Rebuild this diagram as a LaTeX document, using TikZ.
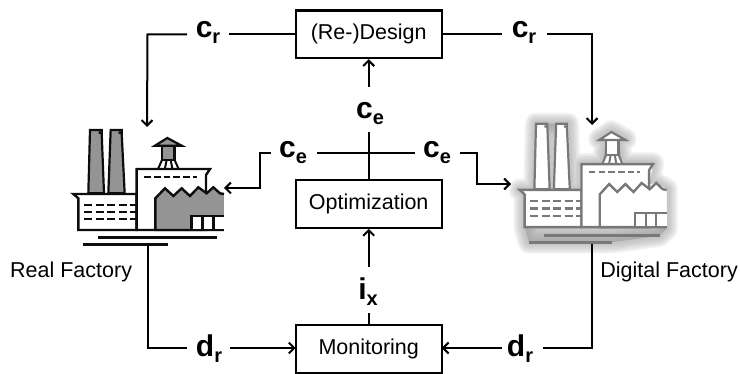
\documentclass[tikz,border=0pt]{standalone}
\usepackage{fontspec}
\setmainfont{Liberation Sans}
\usetikzlibrary{arrows.meta}
\definecolor{dk}{gray}{0.05}
\definecolor{fl}{gray}{0.58}
\definecolor{dg}{gray}{0.47}
\tikzset{
  x=1pt,y=-1pt,
  link/.style={draw=black,line width=2pt},
  arr/.style={link,-{Straight Barb[length=5.5pt,width=11pt,line width=2pt]}},
  procbox/.style={draw=black,line width=2.2pt,minimum width=146pt,minimum height=47.5pt,inner sep=0pt,font=\fontsize{21.5}{24}\selectfont},
  lab/.style={inner sep=0pt,font=\fontsize{30}{32}\selectfont\bfseries},
  captext/.style={inner sep=0pt,font=\fontsize{21.5}{24}\selectfont},
}
\newcommand{\lbl}[2]{#1\raisebox{-6pt}{\fontsize{20}{22}\selectfont #2}}
\newcommand{\factoryoutline}{
  (120,60)--(155,60)--(162,250)--(175,250)--(182,60)--(218,60)--(225,250)--(258,250)--(258,178)--(325,175)--(335,150)--(335,108)--(315,105)--(352,82)--(395,105)--(375,108)--(375,150)--(385,175)--(480,175)--(470,235)--(490,232)--(522,250)--(522,360)--(85,360)--(85,262)--(70,252)--(115,250)--cycle
}
\newcommand{\factory}[5]{%
\begin{scope}[shift={#5},line join=miter,x=#1pt,y=-#2pt]
\def\lc{#3}\def\fc{#4}
 \fill[white] \factoryoutline;
 \filldraw[draw=\lc,fill=\fc,line width=2.2pt] (120,60)--(155,60)--(155,68)--(146,68)--(155,68)--(162,250)--(115,250)--cycle;
 \filldraw[draw=\lc,fill=\fc,line width=2.2pt] (182,60)--(215,60)--(215,68)--(206,68)--(215,68)--(224,250)--(175,250)--cycle;
 \filldraw[draw=\lc,fill=white,line width=2.4pt] (70,252)--(260,252)--(260,360)--(85,360)--(85,265)--cycle;
 \draw[draw=\lc,dash pattern=on 8pt off 3.4pt,line width=2.2pt] (103,284)--(258,284) (103,306)--(258,306) (103,328)--(258,328);
 \filldraw[draw=\lc,fill=white,line width=2.4pt] (260,360)--(260,177)--(480,177)--(468,195)--(468,240)--(468,360)--cycle;
 \draw[draw=\lc,dash pattern=on 6.5pt off 3.2pt,line width=2.2pt] (283,200)--(440,200);
 \filldraw[draw=\lc,fill=\fc,line width=2.4pt] (522,252)--(510,250)--(490,232)--(470,250)--(445,232)--(420,258)--(395,235)--(370,258)--(345,235)--(316,265)--(316,360)--(522,360);
 \filldraw[draw=\lc,fill=white,line width=2.4pt] (522,318)--(425,318)--(425,360)--(522,360);
 \draw[draw=\lc,line width=2.4pt] (458,318)--(458,360) (490,318)--(490,360);
 \filldraw[draw=\lc,fill=\fc,line width=2.4pt] (336,108)--(374,108)--(374,150)--(336,150)--cycle;
 \filldraw[draw=\lc,fill=\fc,line width=2.2pt] (315,107)--(352,84)--(395,107)--cycle;
 \draw[draw=\lc,line width=2pt] (336,150)--(325,175) (374,150)--(385,175) (350,150)--(345,175) (362,150)--(367,175);
 \draw[draw=\lc,line width=2.8pt] (145,383)--(500,383) (98,404)--(353,404);
\end{scope}}
\begin{document}
\begin{tikzpicture}
\useasboundingbox (0,0) rectangle (740,374);
\node[procbox] (design) at (368.7,34.3) {(Re-)Design};
\node[procbox] (opt) at (368.7,204) {Optimization};
\node[procbox] (mon) at (368.7,349) {Monitoring};
\factory{0.3333}{0.3333}{dk}{fl}{(50pt,-110pt)}
\begin{scope}[shift={(497pt,-103pt)},x=0.325pt,y=-0.345pt,line join=round]
 \foreach \w in {22,18,14,10,6}{
  \filldraw[draw=black!40,fill=black!40,opacity=0.15,line width=\w pt] (120,60)--(218,60)--(225,250)--(258,250)--(258,178)--(325,175)--(335,108)--(315,105)--(352,82)--(395,105)--(375,108)--(385,175)--(480,175)--(470,235)--(490,232)--(522,250)--(522,365)--(500,385)--(353,404)--(98,404)--(85,360)--(85,262)--(70,252)--(115,250)--cycle;
 }
\end{scope}
\factory{0.325}{0.345}{dg}{white}{(497pt,-103pt)}
\node[captext,anchor=west] (realcap) at (10,272) {Real Factory};
\node[captext,anchor=east] (digcap) at (738,272) {Digital Factory};
\node[lab] (crl) at (208,32) {\lbl{c}{r}};
\node[lab] (crr) at (524,32) {\lbl{c}{r}};
\node[lab] (cem) at (370,114) {\lbl{c}{e}};
\node[lab] (cel) at (293,153) {\lbl{c}{e}};
\node[lab] (cer) at (437,153) {\lbl{c}{e}};
\node[lab] (ix) at (368,292) {\lbl{i}{x}};
\node[lab] (drl) at (209,349) {\lbl{d}{r}};
\node[lab] (drr) at (520,349) {\lbl{d}{r}};
\coordinate (rtop) at (147,127);
\coordinate (dtop) at (592,125);
\coordinate (rside) at (224,188);
\coordinate (dside) at (511,184);
\coordinate (rbot) at (148.3,245);
\coordinate (dbot) at (592,244);
\draw[link] (design.west) -- (229,34.3);
\draw[arr] (187,34.3) -- (147.5,34.3) -- (rtop);
\draw[link] (design.east) -- (502,34.3);
\draw[arr] (547,34.3) -- (592,34.3) -- (dtop);
\draw[link] (opt.north) -- (368.7,132);
\draw[arr] (368.7,87) -- (design.south);
\draw[link] (317,153) -- (415,153);
\draw[arr] (271,153) -- (260,153) -- (260,188) -- (rside);
\draw[arr] (460,153) -- (477,153) -- (477,184) -- (dside);
\draw[arr] (368.7,267) -- (opt.south);
\draw[link] (mon.north) -- (368.7,313);
\draw[link] (rbot) -- (148.3,348) -- (187,348);
\draw[arr] (230,348) -- (295.7,348);
\draw[link] (dbot) -- (592,348) -- (543,348);
\draw[arr] (502,348) -- (441.7,348);
\end{tikzpicture}
\end{document}
